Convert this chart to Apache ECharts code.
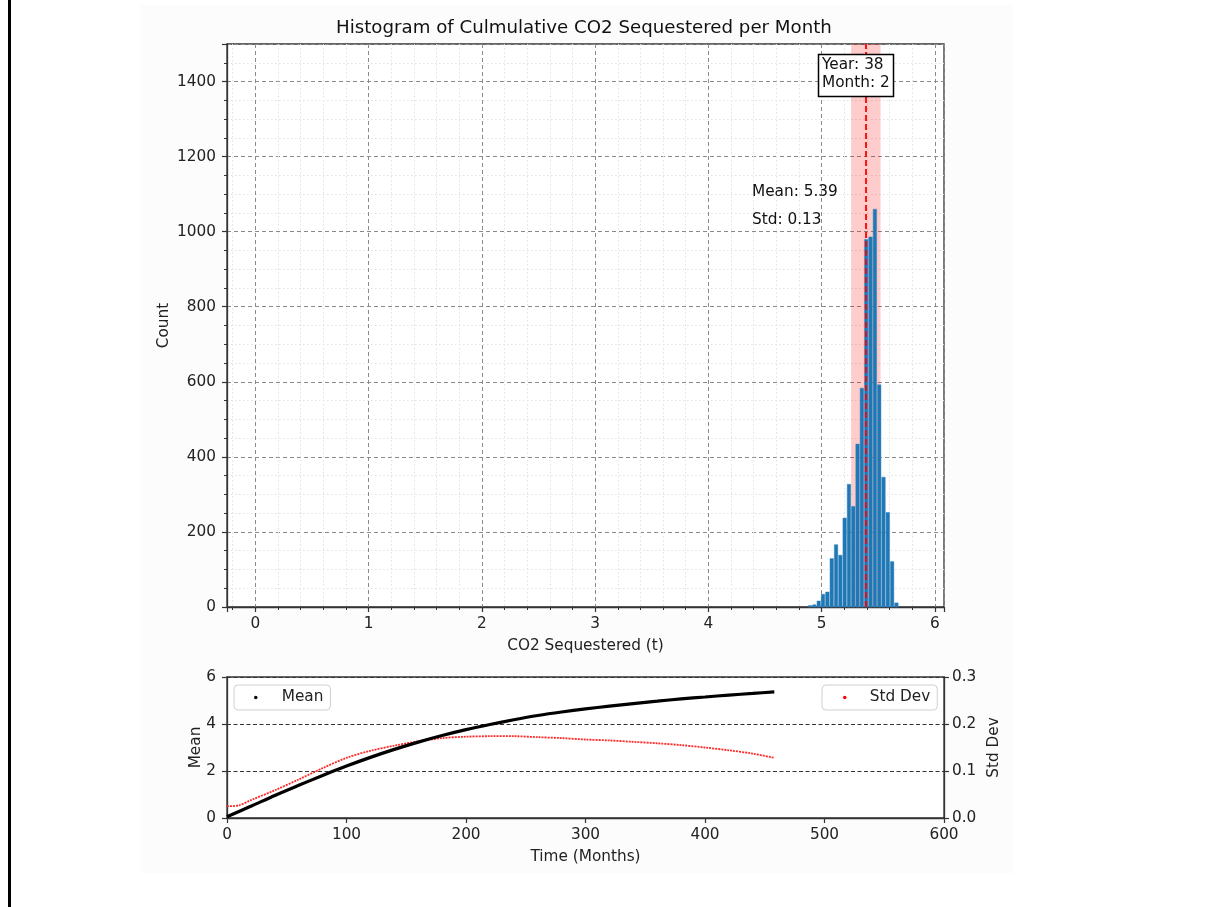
<!DOCTYPE html>
<html>
<head>
<meta charset="utf-8">
<script src="https://cdn.jsdelivr.net/npm/echarts@6/dist/echarts.min.js"></script>
<style>
  html, body { margin: 0; padding: 0; background: #fff; }
  #main { width: 1212px; height: 907px; }
</style>
</head>
<body>
<div id="main"></div>
<script>
var myChart = echarts.init(document.getElementById('main'));

// histogram: bin edges (t CO2) and counts per bin
var binEdges = [4.879, 4.917, 4.955, 4.993, 5.031, 5.070, 5.108, 5.146, 5.184, 5.222, 5.260,
                5.298, 5.336, 5.374, 5.412, 5.451, 5.489, 5.527, 5.565, 5.603, 5.641, 5.679];
var binCounts = [4, 6, 16, 34, 40, 129, 166, 138, 237, 327, 268,
                 434, 583, 979, 986, 1060, 592, 346, 252, 121, 11];
var meanValue = 5.39;
var stdValue = 0.13;
var yearNo = 38;
var monthNo = 2;

// time series of mean and std dev per month
var months = [0, 10, 20, 40, 60, 80, 100, 120, 140, 160, 180, 200, 220, 240, 260, 280, 300,
              320, 340, 360, 380, 400, 420, 440, 458];
var meanSeq = [0.05, 0.28, 0.50, 0.96, 1.39, 1.81, 2.21, 2.58, 2.92, 3.23, 3.51, 3.76, 3.98,
               4.18, 4.36, 4.51, 4.64, 4.76, 4.87, 4.97, 5.07, 5.15, 5.23, 5.30, 5.37];
var stdSeq = [0.025, 0.027, 0.038, 0.059, 0.082, 0.106, 0.128, 0.143, 0.154, 0.163, 0.170,
              0.173, 0.174, 0.174, 0.172, 0.170, 0.167, 0.165, 0.162, 0.159, 0.155, 0.150,
              0.144, 0.137, 0.128];

var FONT = 'DejaVu Sans';
var FS = 15.3;
var txt = { color: '#222', fontFamily: FONT, fontSize: FS };

var histData = binCounts.map(function (c, i) {
  return [binEdges[i], binEdges[i + 1], c];
});
var meanData = months.map(function (m, i) { return [m, meanSeq[i]]; });
var stdData = months.map(function (m, i) { return [m, stdSeq[i]]; });

var axisLine = { show: true, onZero: false, lineStyle: { color: '#333', width: 1.3 } };
var axisTick = { show: true, inside: false, length: 5, lineStyle: { color: '#333', width: 1.2 } };
var plain = function (v) { return String(v); };

option = {
  backgroundColor: '#fff',
  animation: false,
  title: {
    text: 'Histogram of Culmulative CO2 Sequestered per Month',
    left: 336,
    top: 19,
    padding: 0,
    textStyle: { color: '#111', fontFamily: FONT, fontSize: 18.2, fontWeight: 'normal' }
  },
  legend: [
    {
      data: ['Mean'], left: 234, top: 685, orient: 'horizontal',
      icon: 'circle', itemWidth: 42, itemHeight: 3.5,
      padding: [5, 7, 5, 20],
      borderColor: '#d0d0d0', borderWidth: 1, borderRadius: 4, backgroundColor: '#fff',
      textStyle: txt
    },
    {
      data: ['Std Dev'], left: 822, top: 685, orient: 'horizontal',
      icon: 'circle', itemWidth: 40, itemHeight: 3.5,
      padding: [5, 7, 5, 21],
      borderColor: '#d0d0d0', borderWidth: 1, borderRadius: 4, backgroundColor: '#fff',
      textStyle: txt
    }
  ],
  grid: [
    { left: 227, top: 44, width: 717, height: 563, show: true, backgroundColor: '#fff',
      borderColor: '#333', borderWidth: 1.3 },
    { left: 227, top: 677, width: 717, height: 141, show: true, backgroundColor: '#fff',
      borderColor: '#333', borderWidth: 1.3 }
  ],
  xAxis: [
    {
      gridIndex: 0, type: 'value', min: -0.25, max: 6.08, minInterval: 1, maxInterval: 1,
      name: 'CO2 Sequestered (t)', nameLocation: 'middle', nameGap: 32,
      nameTextStyle: txt,
      axisLine: axisLine, axisTick: axisTick,
      minorTick: { show: true, splitNumber: 5, length: 3, lineStyle: { color: '#333', width: 1 } },
      axisLabel: { color: '#222', fontFamily: FONT, fontSize: FS, margin: 10,
                   showMinLabel: false, showMaxLabel: false, formatter: plain },
      splitLine: { show: true, lineStyle: { color: '#8a8a8a', type: [4, 3], width: 1 } },
      minorSplitLine: { show: true, lineStyle: { color: '#e2e2e2', type: [1.5, 2.5], width: 1 } }
    },
    {
      gridIndex: 1, type: 'value', min: 0, max: 600, interval: 100,
      name: 'Time (Months)', nameLocation: 'middle', nameGap: 32,
      nameTextStyle: txt,
      axisLine: axisLine, axisTick: axisTick,
      axisLabel: { color: '#222', fontFamily: FONT, fontSize: FS, margin: 10, formatter: plain },
      splitLine: { show: false }
    }
  ],
  yAxis: [
    {
      gridIndex: 0, type: 'value', min: 0, max: 1500, interval: 200,
      name: 'Count', nameLocation: 'middle', nameRotate: 90, nameGap: 55, nameMoveOverlap: false,
      nameTextStyle: txt,
      axisLine: axisLine, axisTick: axisTick,
      minorTick: { show: true, splitNumber: 4, length: 3, lineStyle: { color: '#333', width: 1 } },
      axisLabel: { color: '#222', fontFamily: FONT, fontSize: FS, margin: 11,
                   showMaxLabel: false, formatter: plain },
      splitLine: { show: true, lineStyle: { color: '#8a8a8a', type: [4, 3], width: 1 } },
      minorSplitLine: { show: true, lineStyle: { color: '#e2e2e2', type: [1.5, 2.5], width: 1 } }
    },
    {
      gridIndex: 1, type: 'value', min: 0, max: 6, interval: 2,
      name: 'Mean', nameLocation: 'middle', nameRotate: 90, nameGap: 23, nameMoveOverlap: false,
      nameTextStyle: txt,
      axisLine: axisLine, axisTick: axisTick,
      axisLabel: { color: '#222', fontFamily: FONT, fontSize: FS, margin: 11, formatter: plain },
      splitLine: { show: true, lineStyle: { color: '#333', type: [4, 2.5], width: 1 } }
    },
    {
      gridIndex: 1, type: 'value', position: 'right', min: 0, max: 0.3, interval: 0.1,
      name: 'Std Dev', nameLocation: 'middle', nameRotate: 90, nameGap: 43, nameMoveOverlap: false,
      nameTextStyle: txt,
      axisLine: axisLine, axisTick: axisTick,
      axisLabel: { color: '#222', fontFamily: FONT, fontSize: FS, margin: 8,
                   formatter: function (v) { return v.toFixed(1); } },
      splitLine: { show: false }
    }
  ],
  series: [
    {
      name: 'hist',
      type: 'custom',
      xAxisIndex: 0, yAxisIndex: 0,
      z: 3,
      encode: { x: [0, 1], y: 2 },
      data: histData,
      renderItem: function (params, api) {
        var p0 = api.coord([api.value(0), api.value(2)]);
        var p1 = api.coord([api.value(1), 0]);
        return {
          type: 'rect',
          shape: { x: p0[0] + 0.4, y: p0[1], width: p1[0] - p0[0] - 0.8, height: p1[1] - p0[1] },
          style: { fill: '#1f77b4', stroke: '#3d8ac4', lineWidth: 0.5 }
        };
      },
      markArea: {
        silent: true,
        z: 1,
        itemStyle: { color: 'rgba(255,0,0,0.2)' },
        data: [[{ xAxis: meanValue - stdValue }, { xAxis: meanValue + stdValue }]]
      },
      markLine: {
        silent: true,
        symbol: ['none', 'none'],
        label: { show: false },
        lineStyle: { color: '#ff0000', type: [6, 3], width: 1.8 },
        data: [{ xAxis: meanValue }]
      }
    },
    {
      name: 'Mean',
      type: 'line',
      xAxisIndex: 1, yAxisIndex: 1,
      showSymbol: false, symbol: 'circle',
      smooth: 0.3,
      itemStyle: { color: '#000' },
      lineStyle: { color: '#000', width: 3.2 },
      data: meanData,
      z: 4
    },
    {
      name: 'Std Dev',
      type: 'line',
      xAxisIndex: 1, yAxisIndex: 2,
      showSymbol: false, symbol: 'circle',
      smooth: 0.3,
      itemStyle: { color: '#ff0000' },
      lineStyle: { color: '#ff2a2a', width: 1.8, type: [2, 1] },
      data: stdData,
      z: 3
    }
  ],
  graphic: [
    { type: 'rect', z: -10, shape: { x: 140, y: 5, width: 874, height: 868 },
      style: { fill: '#fcfcfc' } },
    { type: 'rect', z: 10, shape: { x: 8, y: 0, width: 3, height: 907 },
      style: { fill: '#000' } },
    { type: 'text', z: 10, style: { x: 752, y: 192, text: 'Mean: ' + meanValue.toFixed(2),
      verticalAlign: 'middle', fill: '#111', font: FS + 'px "DejaVu Sans"' } },
    { type: 'text', z: 10, style: { x: 752, y: 220, text: 'Std: ' + stdValue.toFixed(2),
      verticalAlign: 'middle', fill: '#111', font: FS + 'px "DejaVu Sans"' } },
    { type: 'rect', z: 20, shape: { x: 818.5, y: 54.5, width: 75, height: 42 },
      style: { fill: '#fff', stroke: '#000', lineWidth: 1.5 } },
    { type: 'text', z: 21, style: { x: 822, y: 56, text: 'Year: ' + yearNo + '\nMonth: ' + monthNo,
      lineHeight: 18, fill: '#111', font: FS + 'px "DejaVu Sans"' } }
  ]
};

myChart.setOption(option);
</script>
</body>
</html>
